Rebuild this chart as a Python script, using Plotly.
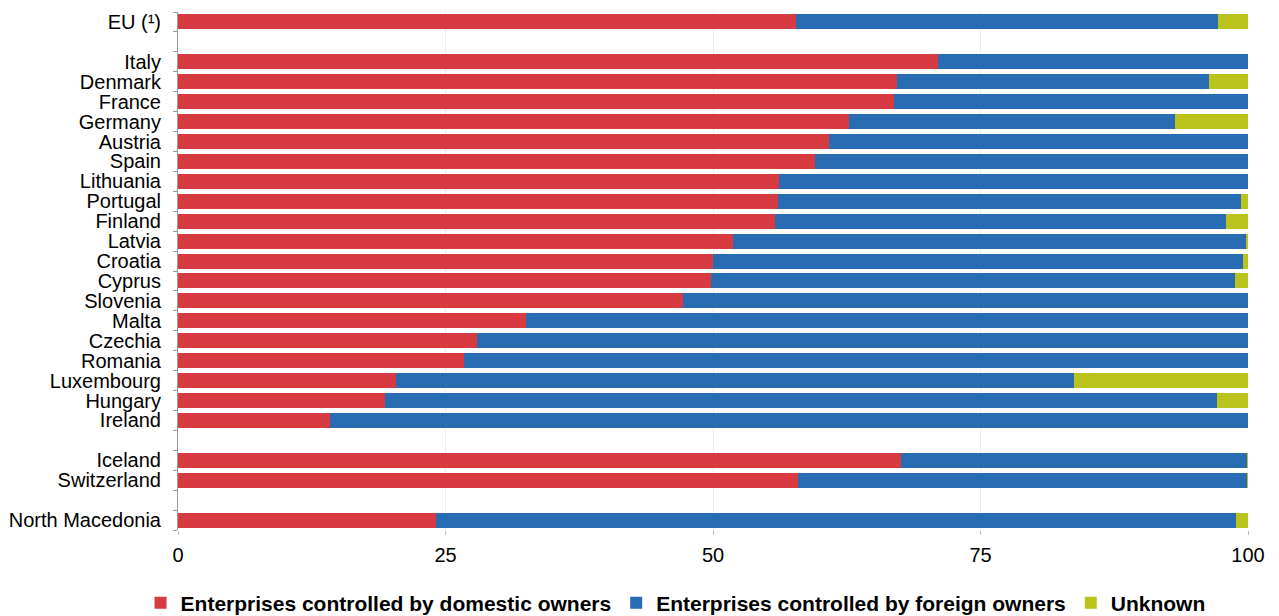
import plotly.graph_objects as go

# Categories top to bottom; blank entries leave spacing between groups
categories = [
    "EU (¹)", " ",
    "Italy", "Denmark", "France", "Germany", "Austria", "Spain", "Lithuania",
    "Portugal", "Finland", "Latvia", "Croatia", "Cyprus", "Slovenia", "Malta",
    "Czechia", "Romania", "Luxembourg", "Hungary", "Ireland", "  ",
    "Iceland", "Switzerland", "   ",
    "North Macedonia",
]

# Shares of enterprises (%)
domestic = [
    57.8, None,
    71.0, 67.2, 66.9, 62.7, 60.8, 59.5, 56.2,
    56.1, 55.8, 51.9, 50.0, 49.8, 47.2, 32.5,
    27.9, 26.7, 20.4, 19.3, 14.2, None,
    67.6, 57.9, None,
    24.1,
]
foreign = [
    39.4, None,
    29.0, 29.2, 33.1, 30.5, 39.2, 40.5, 43.8,
    43.2, 42.1, 48.0, 49.5, 49.0, 52.8, 67.5,
    72.1, 73.3, 63.3, 77.8, 85.8, None,
    32.35, 42.05, None,
    74.8,
]
unknown = [
    2.8, None,
    0.0, 3.6, 0.0, 6.8, 0.0, 0.0, 0.0,
    0.7, 2.1, 0.1, 0.5, 1.2, 0.0, 0.0,
    0.0, 0.0, 16.3, 2.9, 0.0, None,
    0.05, 0.05, None,
    1.1,
]

series = [
    ("Enterprises controlled by domestic owners", domestic, "#d73b41"),
    ("Enterprises controlled by foreign owners", foreign, "#286db4"),
    ("Unknown", unknown, "#b9c31c"),
]

fig = go.Figure()
for name, values, color in series:
    fig.add_trace(go.Bar(
        y=categories, x=values, name=name, orientation="h",
        marker=dict(color=color, line=dict(width=0)),
    ))

font_family = "Liberation Sans, Arial, sans-serif"

fig.update_layout(
    barmode="stack",
    bargap=0.25,
    width=1279, height=616,
    margin=dict(l=178, r=31, t=12, b=86, autoexpand=False),
    paper_bgcolor="white", plot_bgcolor="white",
    font=dict(family=font_family, size=20, color="#000000"),
    showlegend=True,
    legend=dict(
        orientation="h", x=0.465, xanchor="center",
        yref="container", y=0.021, yanchor="middle",
        font=dict(family=font_family, size=21, color="#000000", weight="bold"),
        itemwidth=30, traceorder="normal",
    ),
    xaxis=dict(
        range=[0, 100], tickvals=[0, 25, 50, 75, 100],
        showgrid=True, gridcolor="#ececec", gridwidth=1,
        zeroline=False, showline=False,
        ticks="outside", ticklen=4, tickcolor="#bbbbbb",
        ticklabelstandoff=3,
        tickfont=dict(size=20),
    ),
    yaxis=dict(
        type="category", categoryorder="array", categoryarray=categories,
        tickmode="array", tickvals=categories, ticktext=categories,
        autorange="reversed",
        showline=True, linecolor="#9a9a9a", linewidth=1,
        ticks="outside", tickson="boundaries", ticklen=4, tickcolor="#9a9a9a",
        showgrid=False, tickfont=dict(size=20),
        ticklabelstandoff=12,
    ),
)

fig.write_html("out.html")
